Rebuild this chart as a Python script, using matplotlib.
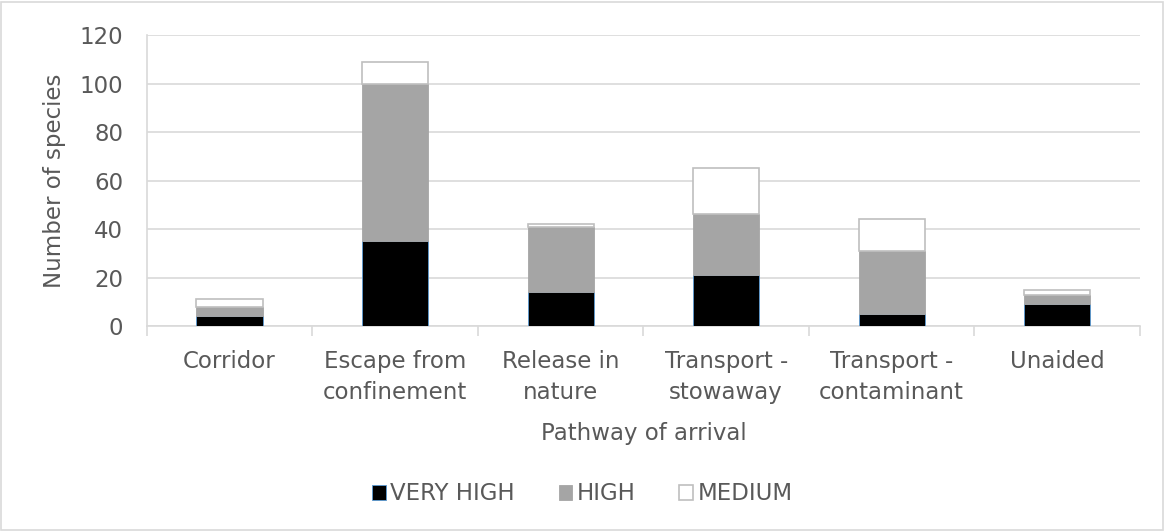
import numpy as np
import matplotlib.pyplot as plt
from matplotlib.patches import Rectangle

categories = ["Corridor", "Escape from\nconfinement", "Release in\nnature",
              "Transport -\nstowaway", "Transport -\ncontaminant", "Unaided"]
very_high = [4, 35, 14, 21, 5, 9]
high = [4, 65, 27, 25, 26, 4]
medium = [3, 9, 1, 19, 13, 2]

txt = "#595959"
grid = "#d9d9d9"
plt.rcParams['font.family'] = ['DejaVu Sans']
plt.rcParams['font.size'] = 16.5

fig = plt.figure(figsize=(11.65, 5.31), dpi=100)
ax = fig.add_axes([0.126, 0.386, 0.8525, 0.548])

x = np.arange(len(categories))
vh = np.array(very_high)
h = np.array(high)
m = np.array(medium)
w = 0.4
ax.bar(x, vh, w, color="black", edgecolor="#5b9bd5", linewidth=0.6, label="VERY HIGH", zorder=3)
ax.bar(x, h, w, bottom=vh, color="#a5a5a5", edgecolor="#a5a5a5", linewidth=0.6, label="HIGH", zorder=3)
ax.bar(x, m, w, bottom=vh + h, color="white", edgecolor="#bfbfbf", linewidth=1.2, label="MEDIUM", zorder=3)

ax.set_xlim(-0.5, 5.5)
ax.set_ylim(0, 120)
ax.set_yticks(range(0, 121, 20))
ax.yaxis.grid(True, color=grid, linewidth=1.2, zorder=0)
ax.set_xticks(x)
ax.set_xticklabels(categories, color=txt, linespacing=1.45)
ax.set_xticks(np.arange(-0.5, 6, 1), minor=True)
ax.tick_params(axis="x", which="major", length=0, pad=17.5)
ax.tick_params(axis="x", which="minor", length=7, color=grid, width=1.2)
ax.tick_params(axis="y", length=0, labelcolor=txt, pad=17)
for s in ["top", "right"]:
    ax.spines[s].set_visible(False)
ax.spines["left"].set_color(grid)
ax.spines["bottom"].set_color(grid)
ax.spines["left"].set_linewidth(1.2)
ax.spines["bottom"].set_linewidth(1.2)

ax.set_xlabel("Pathway of arrival", color=txt, labelpad=13)
ax.set_ylabel("Number of species", color=txt, labelpad=10)

fig.legend(loc="center", bbox_to_anchor=(0.5, 0.07), ncol=3, frameon=False,
           handlelength=0.6, handleheight=0.6, handletextpad=0.2, columnspacing=1.9,
           labelcolor=txt)

fig.patches.append(Rectangle((0.001, 0.002), 0.997, 0.995, transform=fig.transFigure,
                             fill=False, edgecolor=grid, linewidth=1.2))

fig.savefig("out.png", dpi=100)
